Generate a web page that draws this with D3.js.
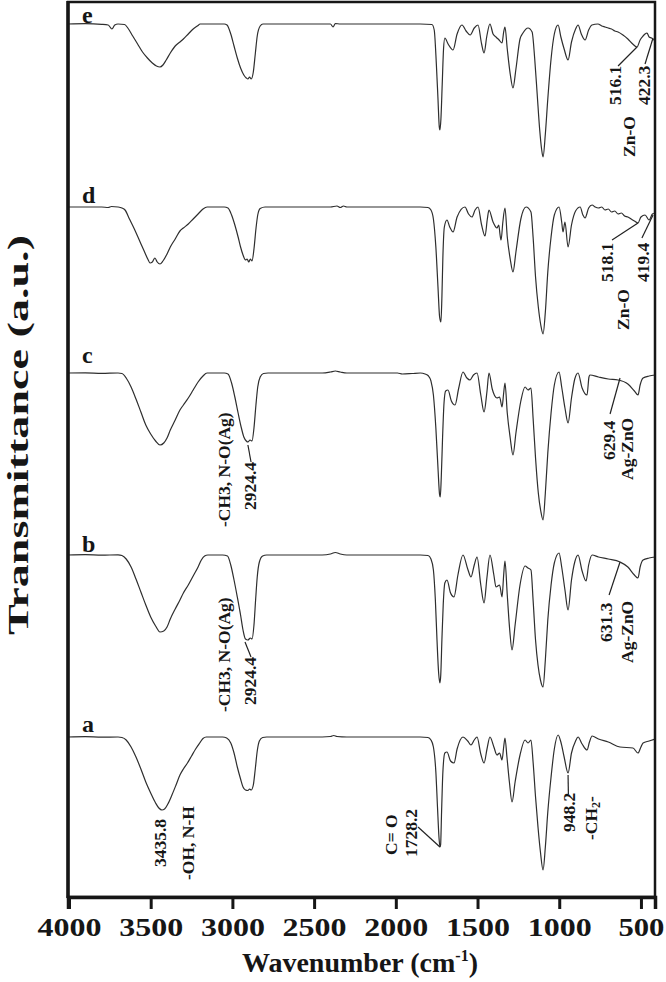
<!DOCTYPE html>
<html><head><meta charset="utf-8">
<script src="https://cdn.jsdelivr.net/npm/d3@7"></script>
<style>
body{margin:0;background:#fff}
svg{display:block}
text{font-family:"Liberation Serif","Times New Roman",serif;font-weight:bold;fill:#161616}
</style>
</head><body>
<svg id="chart" width="666" height="982"></svg>
<script>
// ---------- DATA ----------
const xTicks = [4000, 3500, 3000, 2500, 2000, 1500, 1000, 500];
const seriesNames = ["a", "b", "c", "d", "e"];
// vertical offset of each trace baseline (a.u.)
const offsets = [160, 342, 524, 690, 873];

// [wavenumber, transmittance (baseline 100, a.u.)]
const specA = [[4006,100],[3900,100.3],[3800,99.8],[3700,100],[3676,99.5],[3650,97],[3620,90],[3590,80],[3560,68],[3530,55],[3500,44],[3470,34],[3450,29],[3431,27],[3415,28],[3395,33],[3370,42],[3345,52],[3321,62],[3300,68],[3275,74],[3250,81],[3225,88],[3200,94],[3180,98.5],[3160,100],[3060,100],[3035,99],[3010,94],[2990,84],[2970,70],[2950,58],[2935,50],[2920,47],[2905,46.5],[2895,48],[2885,47],[2872,52],[2860,68],[2848,86],[2835,96],[2815,99.5],[2790,100],[2500,100],[2400,100.5],[2380,101.5],[2360,100.5],[2300,100],[2000,100],[1850,100],[1803,99.5],[1785,97],[1770,90],[1755,65],[1745,30],[1736,0],[1730,-10],[1726,-8],[1720,25],[1712,65],[1700,84],[1687,85],[1665,76],[1644,74],[1625,88],[1589,100],[1560,96],[1540,92],[1520,97],[1503,100],[1480,83],[1460,74],[1442,88],[1424,100],[1400,90],[1381,82],[1365,84],[1350,77],[1340,90],[1332,99],[1320,80],[1305,55],[1289,35],[1270,55],[1240,82],[1209,97],[1191,94],[1173,97],[1160,75],[1145,40],[1130,10],[1115,-15],[1099,-33],[1085,-10],[1070,25],[1050,60],[1030,88],[1007,102],[990,95],[970,80],[946,64],[925,84],[900,96],[885,100],[860,93],[830,87],[815,95],[799,101],[760,98],[700,95],[628,90],[549,89],[518,84],[500,90],[487,94],[450,96],[414,98]];

const specB = [[4006,100],[3900,100.4],[3800,99.8],[3700,100.2],[3676,99.5],[3650,96],[3620,88],[3590,76],[3560,63],[3530,50],[3500,38],[3470,29],[3443,23],[3420,24],[3400,28],[3380,36],[3350,46],[3321,55],[3300,62],[3270,70],[3240,79],[3210,88],[3190,95],[3170,99],[3150,100],[3060,100],[3030,99],[3010,90],[2990,75],[2970,58],[2950,40],[2935,25],[2920,16],[2905,15],[2890,17],[2880,16],[2868,30],[2858,55],[2848,78],[2835,93],[2815,99],[2790,100],[2450,100],[2400,101],[2370,102.5],[2340,101],[2300,100],[1850,100],[1803,99.5],[1785,96],[1770,85],[1758,55],[1748,15],[1738,-18],[1730,-28],[1725,-20],[1718,15],[1710,50],[1700,72],[1687,75],[1665,62],[1644,58],[1620,80],[1589,100],[1560,86],[1540,78],[1520,90],[1503,98],[1480,70],[1460,52],[1442,78],[1424,100],[1400,80],[1387,68],[1365,70],[1350,58],[1340,80],[1332,94],[1318,60],[1303,25],[1289,5],[1270,30],[1240,70],[1209,89],[1191,87],[1173,85],[1160,55],[1145,15],[1130,-10],[1115,-25],[1099,-32],[1085,-5],[1070,35],[1050,70],[1030,92],[1001,102],[985,88],[965,65],[946,45],[925,75],[905,93],[885,100],[860,84],[836,74],[820,90],[799,100],[760,98],[700,96],[628,93],[580,88],[540,80],[518,77],[505,88],[487,95],[450,97],[414,98]];

const specC = [[4006,100],[3900,100.2],[3800,99.6],[3700,100],[3676,99.5],[3650,95],[3620,86],[3590,74],[3560,61],[3530,48],[3500,39],[3470,32],[3443,28],[3420,30],[3400,35],[3380,43],[3350,53],[3321,63],[3300,68],[3270,75],[3240,83],[3210,91],[3180,97],[3155,100],[3050,100],[3027,99],[3005,90],[2985,76],[2965,60],[2945,45],[2930,36],[2915,32],[2905,31],[2892,33],[2880,32],[2868,45],[2856,68],[2845,86],[2830,96],[2810,99.5],[2782,100],[2450,100],[2400,101],[2370,102],[2340,101],[2300,100],[1990,100],[1960,99],[1900,99.5],[1850,100],[1821,99],[1800,97],[1785,92],[1770,78],[1755,45],[1742,5],[1732,-22],[1728,-24],[1722,-5],[1714,35],[1705,70],[1695,82],[1681,83],[1660,72],[1638,68],[1615,85],[1589,101],[1565,95],[1546,93],[1525,98],[1503,100],[1480,78],[1460,61],[1442,82],[1430,100],[1410,84],[1381,75],[1365,76],[1350,66],[1340,80],[1332,90],[1318,60],[1300,35],[1283,18],[1265,40],[1235,72],[1209,86],[1191,83],[1173,85],[1160,55],[1145,15],[1128,-20],[1113,-38],[1099,-47],[1085,-20],[1070,20],[1050,60],[1030,88],[1001,101],[985,86],[965,65],[946,50],[925,75],[905,94],[885,100],[860,85],[830,78],[818,96],[812,98],[760,96],[700,94],[640,93],[580,89],[540,82],[518,78],[505,88],[487,95],[450,97],[414,98]];

const specD = [[4006,100],[3900,100],[3800,100],[3760,99.5],[3740,100.5],[3700,100],[3676,99],[3657,97],[3630,88],[3600,78],[3570,67],[3540,56],[3515,47],[3504,44],[3490,45],[3474,49],[3460,45],[3443,43],[3425,46],[3400,53],[3380,60],[3350,68],[3321,76],[3300,79],[3270,83],[3240,88],[3210,93],[3180,98],[3155,100],[3050,100],[3027,99],[3005,92],[2985,82],[2965,70],[2950,60],[2935,52],[2920,47],[2910,48],[2900,45],[2890,48],[2880,46],[2868,58],[2856,78],[2845,92],[2830,98.5],[2800,100],[2400,100],[2360,101],[2340,99.5],[2320,101],[2300,100],[1850,100],[1803,99.5],[1785,97],[1770,88],[1755,60],[1742,20],[1732,-10],[1724,-15],[1718,10],[1712,50],[1703,80],[1687,87],[1670,80],[1650,75],[1625,90],[1577,100],[1555,93],[1534,90],[1515,97],[1497,100],[1475,82],[1454,71],[1440,88],[1430,97],[1405,85],[1381,79],[1370,82],[1362,72],[1356,67],[1345,85],[1332,99],[1318,70],[1300,48],[1283,35],[1265,55],[1235,88],[1203,100],[1173,95],[1160,70],[1145,30],[1128,0],[1113,-18],[1099,-27],[1085,-5],[1070,35],[1050,70],[1030,92],[1001,100],[985,85],[977,75],[965,85],[946,60],[925,82],[900,96],[872,100],[855,92],[842,89],[820,99],[799,102],[780,100],[760,99],[740,100],[720,97],[700,98],[680,95],[660,96],[640,93],[620,94],[600,91],[580,90],[560,88],[540,86],[518,84],[500,90],[475,92],[450,87],[430,93],[414,94]];

const specE = [[4006,100],[3900,100.3],[3800,99.7],[3760,99],[3737,95],[3720,99],[3700,100],[3660,99.5],[3640,96],[3610,88],[3580,80],[3550,72],[3520,66],[3490,61],[3465,58],[3443,57],[3425,59],[3405,64],[3380,71],[3350,78],[3321,82],[3300,85],[3270,90],[3240,95],[3210,98.5],[3198,100],[3050,100],[3033,99],[3010,90],[2990,78],[2970,66],[2950,56],[2930,49],[2915,46],[2905,45],[2895,47],[2885,45],[2872,52],[2860,70],[2848,88],[2830,98],[2813,100],[2400,100],[2384,97],[2370,100.5],[2340,100],[1850,100],[1779,99.5],[1765,94],[1752,60],[1742,25],[1734,-3],[1730,-6],[1724,5],[1716,40],[1708,75],[1700,86],[1680,80],[1650,74],[1625,90],[1595,99],[1570,93],[1545,89],[1520,96],[1497,99],[1475,80],[1460,71],[1443,88],[1424,100],[1405,90],[1387,87],[1368,84],[1350,81],[1340,92],[1332,97],[1318,75],[1300,50],[1283,36],[1265,55],[1240,85],[1222,91],[1191,96],[1166,92],[1150,65],[1135,30],[1120,-5],[1108,-25],[1099,-33],[1085,-10],[1070,25],[1050,65],[1030,90],[1007,99],[990,87],[970,75],[946,64],[925,82],[900,95],[885,99],[865,90],[842,84],[820,94],[800,99],[763,100],[740,98],[720,97],[700,96],[680,95],[660,93],[640,92],[610,89],[580,85],[550,80],[524,77],[505,84],[487,88],[475,90],[463,91],[450,87],[435,86],[420,84],[414,84]];

const spectra = [specA, specB, specC, specD, specE];

// peak annotations: [text, wavenumber (centre), a.u. (bottom of rotated text)]
const peakLabels = [
  ["516.1", 659, 792], ["Zn-O", 573, 740], ["422.3", 481, 792],
  ["518.1", 708, 615], ["Zn-O", 610, 567], ["419.4", 487, 615],
  ["629.4", 695, 437], ["Ag-ZnO", 585, 417],
  ["-CH3, N-O(Ag)", 3051, 370], ["2924.4", 2892, 387],
  ["631.3", 714, 255], ["Ag-ZnO", 585, 234],
  ["-CH3, N-O(Ag)", 3051, 185], ["2924.4", 2892, 192],
  ["3435.8", 3443, 30], ["-OH, N-H", 3272, 17],
  ["C= O", 2030, 42], ["1728.2", 1907, 40],
  ["948.2", 940, 65]
];
// leader lines: [w1, a.u.1, w2, a.u.2]
const leaders = [
  [640, 831, 524, 850], [475, 833, 426, 859],
  [677, 657, 518, 674], [494, 659, 426, 682],
  [689, 483, 628, 519], [2905, 452, 2886, 435],
  [695, 302, 628, 335], [2923, 255, 2886, 240],
  [1864, 70, 1730, 50], [946, 122, 944, 103]
];

// ---------- CHART ----------
const svg = d3.select("#chart");
const x = d3.scaleLinear().domain([4006, 414]).range([68, 655]);
const y = d3.scaleLinear().domain([0, 895]).range([897, 2]);

svg.append("defs").append("clipPath").attr("id", "clip")
  .append("rect").attr("x", 68).attr("y", 2).attr("width", 587).attr("height", 895);

const line = d3.line().curve(d3.curveMonotoneX);
const g = svg.append("g").attr("clip-path", "url(#clip)");
spectra.forEach((s, i) => {
  g.append("path")
    .attr("d", line(s.map(d => [x(d[0]), y(offsets[i] + d[1] - 100)])))
    .attr("fill", "none").attr("stroke", "#2e2e2e").attr("stroke-width", 1.2)
    .attr("stroke-linejoin", "round");
});

// frame
svg.append("rect").attr("x", 68).attr("y", 2).attr("width", 587).attr("height", 895)
  .attr("fill", "none").attr("stroke", "#161616").attr("stroke-width", 2.5);
svg.append("line").attr("x1", 68).attr("x2", 68).attr("y1", 1).attr("y2", 898)
  .attr("stroke", "#161616").attr("stroke-width", 3.5);

// x axis
const xAxis = d3.axisBottom(x).tickValues(xTicks).tickSize(12).tickPadding(9).tickFormat(d3.format("d"));
const ax = svg.append("g").attr("transform", "translate(0,897)").call(xAxis);
ax.select(".domain").attr("stroke", "#161616").attr("stroke-width", 3.5);
ax.selectAll(".tick line").attr("stroke", "#161616").attr("stroke-width", 3);
ax.selectAll(".tick text").attr("font-size", 26).attr("fill", "#161616")
  .attr("textLength", d => d >= 1000 ? 64 : 46).attr("lengthAdjust", "spacingAndGlyphs");

// axis titles
const xt = svg.append("text").attr("x", 360).attr("y", 972).attr("text-anchor", "middle")
  .attr("font-size", 28);
xt.append("tspan").text("Wavenumber (cm");
xt.append("tspan").text("-1").attr("font-size", 16).attr("dy", -11);
xt.append("tspan").text(")").attr("dy", 11);

svg.append("text").attr("transform", "translate(17,435) rotate(-90)")
  .attr("text-anchor", "middle").attr("dominant-baseline", "central")
  .attr("font-size", 30).attr("textLength", 400).attr("lengthAdjust", "spacingAndGlyphs")
  .text("Transmittance (a.u.)");

// trace labels
const labelGap = [5, 3, 10, 4, 1];
seriesNames.forEach((n, i) => {
  svg.append("text").attr("x", 82).attr("y", y(offsets[i]) - labelGap[i])
    .attr("font-size", 24).text(n);
});

// leaders
leaders.forEach(l => {
  svg.append("line").attr("x1", x(l[0])).attr("y1", y(l[1]))
    .attr("x2", x(l[2])).attr("y2", y(l[3]))
    .attr("stroke", "#222").attr("stroke-width", 1.2);
});

// peak labels (rotated)
peakLabels.forEach(p => {
  svg.append("text")
    .attr("transform", `translate(${x(p[1])},${y(p[2])}) rotate(-90)`)
    .attr("dominant-baseline", "central").attr("font-size", 17.5)
    .text(p[0]);
});
// -CH2- with subscript
const ch2 = svg.append("text")
  .attr("transform", `translate(${x(806)},${y(57)}) rotate(-90)`)
  .attr("dominant-baseline", "central").attr("font-size", 17.5);
ch2.append("tspan").text("-CH");
ch2.append("tspan").text("2").attr("font-size", 12).attr("dy", 5);
ch2.append("tspan").text("-").attr("dy", -5);
</script>
</body></html>
